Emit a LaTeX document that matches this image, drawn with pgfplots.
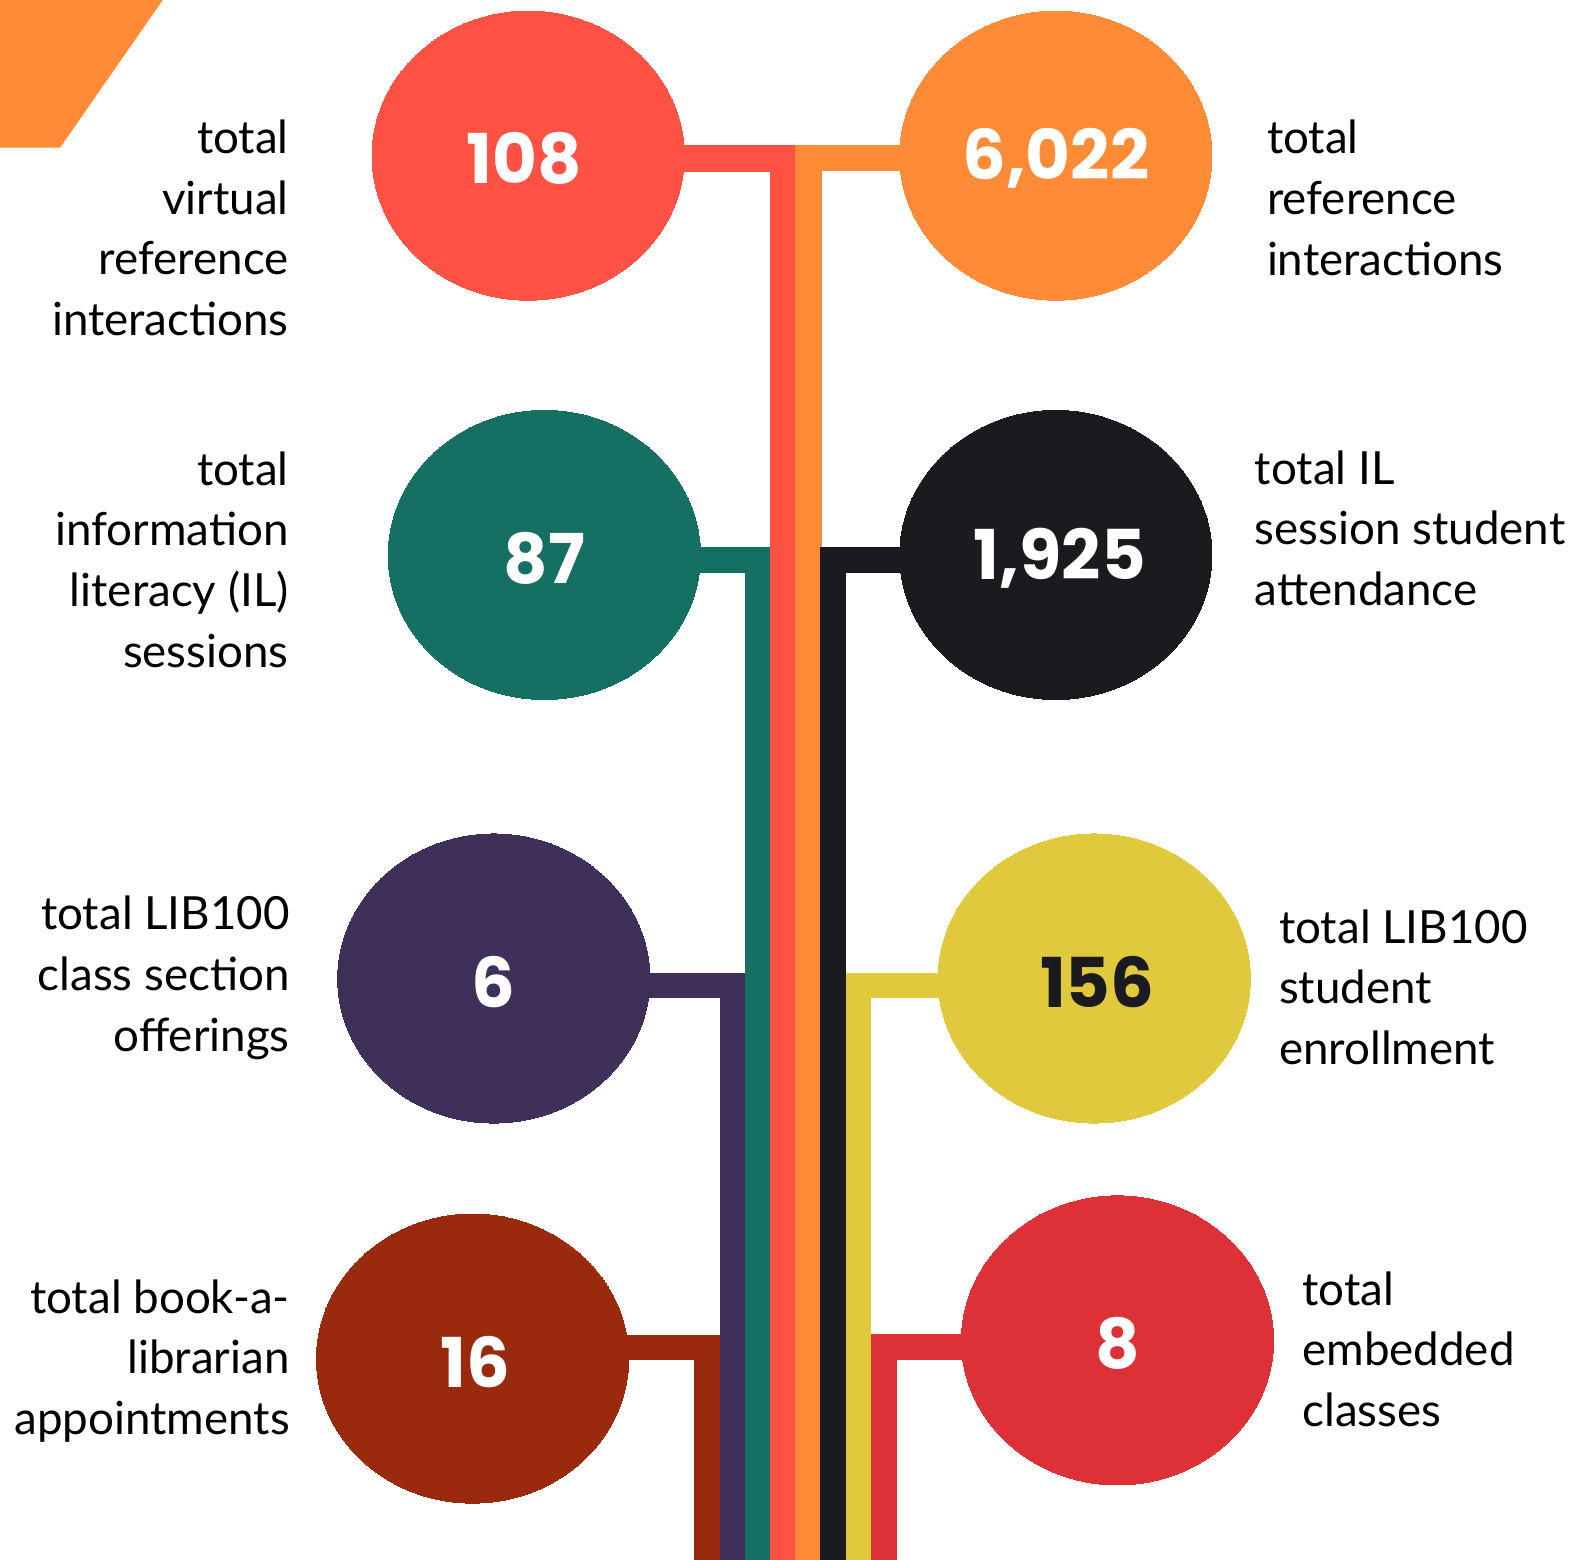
\documentclass[border=0pt]{standalone}
\usepackage{pgfplots}
\pgfplotsset{compat=1.18}
\usepackage{fontspec}
\setmainfont{Lato}
\newfontfamily\numfont{Poppins}
\definecolor{cRed}{HTML}{FF5245}
\definecolor{cOrange}{HTML}{FF8B36}
\definecolor{cTeal}{HTML}{156F63}
\definecolor{cBlack}{HTML}{1B1B1F}
\definecolor{cPurple}{HTML}{3F305A}
\definecolor{cYellow}{HTML}{E0C93C}
\definecolor{cBrown}{HTML}{9A2A0E}
\definecolor{cRedTwo}{HTML}{DD3137}
\newcommand{\lblL}[3]{\node[anchor=base east,inner sep=0pt,font=\fontsize{22.6}{26}\selectfont] at (axis cs:#1,#2) {#3};}
\newcommand{\lblR}[3]{\node[anchor=base west,inner sep=0pt,font=\fontsize{22.6}{26}\selectfont] at (axis cs:#1,#2) {#3};}
\begin{document}
\begin{tikzpicture}
\begin{axis}[
  width=784pt, height=771.5pt, scale only axis,
  xmin=0, xmax=1568, ymin=0, ymax=1543, y dir=reverse,
  hide axis, clip=true,
  every axis plot/.append style={line join=miter},
  circ/.style={color=#1, only marks, mark=*, mark size=71.5pt, mark options={xscale=1.08, draw=#1, fill=#1, line width=0pt},
    every node near coord/.append style={anchor=center, yshift=-1.5pt, font=\numfont\bfseries\fontsize{34}{34}\selectfont}},
]
% background
\addplot[fill=white, draw=none] coordinates {(0,0)(1568,0)(1568,1543)(0,1543)} -- cycle;
% corner shape
\addplot[fill=cOrange, draw=none] coordinates {(0,0)(161,0)(59.5,146)(0,146)} -- cycle;
% connector stripes
\addplot[cBrown, line width=12.8pt] coordinates {(467.5,1333)(699.5,1333)(699.5,1600)};
\addplot[cPurple, line width=12.6pt] coordinates {(488.5,975)(724.6,975)(724.6,1600)};
\addplot[cTeal, line width=12.6pt] coordinates {(538.5,554)(749.4,554)(749.4,1600)};
\addplot[cRed, line width=13.2pt] coordinates {(522.5,156.5)(775.1,156.5)(775.1,1600)};
\addplot[cOrange, line width=13pt] coordinates {(1044.5,156.5)(799.9,156.5)(799.9,1600)};
\addplot[cBlack, line width=12.8pt] coordinates {(1044.5,554)(824.2,554)(824.2,1600)};
\addplot[cYellow, line width=12.6pt] coordinates {(1082.5,975)(849.3,975)(849.3,1600)};
\addplot[cRedTwo, line width=13pt] coordinates {(1105.5,1332.5)(874.5,1332.5)(874.5,1600)};
% circles with values
\addplot[circ=cRed, nodes near coords={108}, every node near coord/.append style={text=white, xshift=-2pt}] coordinates {(522.5,154)};
\addplot[circ=cOrange, nodes near coords={6,022}, every node near coord/.append style={text=white}] coordinates {(1044.5,154)};
\addplot[circ=cTeal, nodes near coords={87}, every node near coord/.append style={text=white}] coordinates {(538.5,549)};
\addplot[circ=cBlack, nodes near coords={1,925}, every node near coord/.append style={text=white, xshift=2pt}] coordinates {(1044.5,549)};
\addplot[circ=cPurple, nodes near coords={6}, every node near coord/.append style={text=white}] coordinates {(488.5,968)};
\addplot[circ=cYellow, nodes near coords={156}, every node near coord/.append style={text=cBlack, xshift=1.5pt}] coordinates {(1082.5,968)};
\addplot[circ=cBrown, nodes near coords={16}, every node near coord/.append style={text=white, xshift=1.5pt}] coordinates {(467.5,1344)};
\addplot[circ=cRedTwo, nodes near coords={8}, every node near coord/.append style={text=white}] coordinates {(1105.5,1326)};
% labels left
\lblL{286}{152}{total}
\lblL{286}{212}{virtual}
\lblL{286}{272}{reference}
\lblL{286}{332}{interactions}
\lblL{286}{480}{total}
\lblL{286}{540}{information}
\lblL{286}{600}{literacy (IL)}
\lblL{286}{660}{sessions}
\lblL{287}{920}{total LIB100}
\lblL{287}{980}{class section}
\lblL{287}{1040}{offerings}
\lblL{287}{1299}{total book-a-}
\lblL{287}{1359}{librarian}
\lblL{287}{1419}{appointments}
% labels right
\lblR{1253}{152}{total}
\lblR{1253}{212}{reference}
\lblR{1253}{273}{interactions}
\lblR{1241}{479}{total IL}
\lblR{1241}{539}{session student}
\lblR{1241}{599}{attendance}
\lblR{1265}{933}{total LIB100}
\lblR{1265}{993}{student}
\lblR{1265}{1053}{enrollment}
\lblR{1288}{1291}{total}
\lblR{1288}{1351}{embedded}
\lblR{1288}{1411}{classes}
\end{axis}
\end{tikzpicture}
\end{document}
